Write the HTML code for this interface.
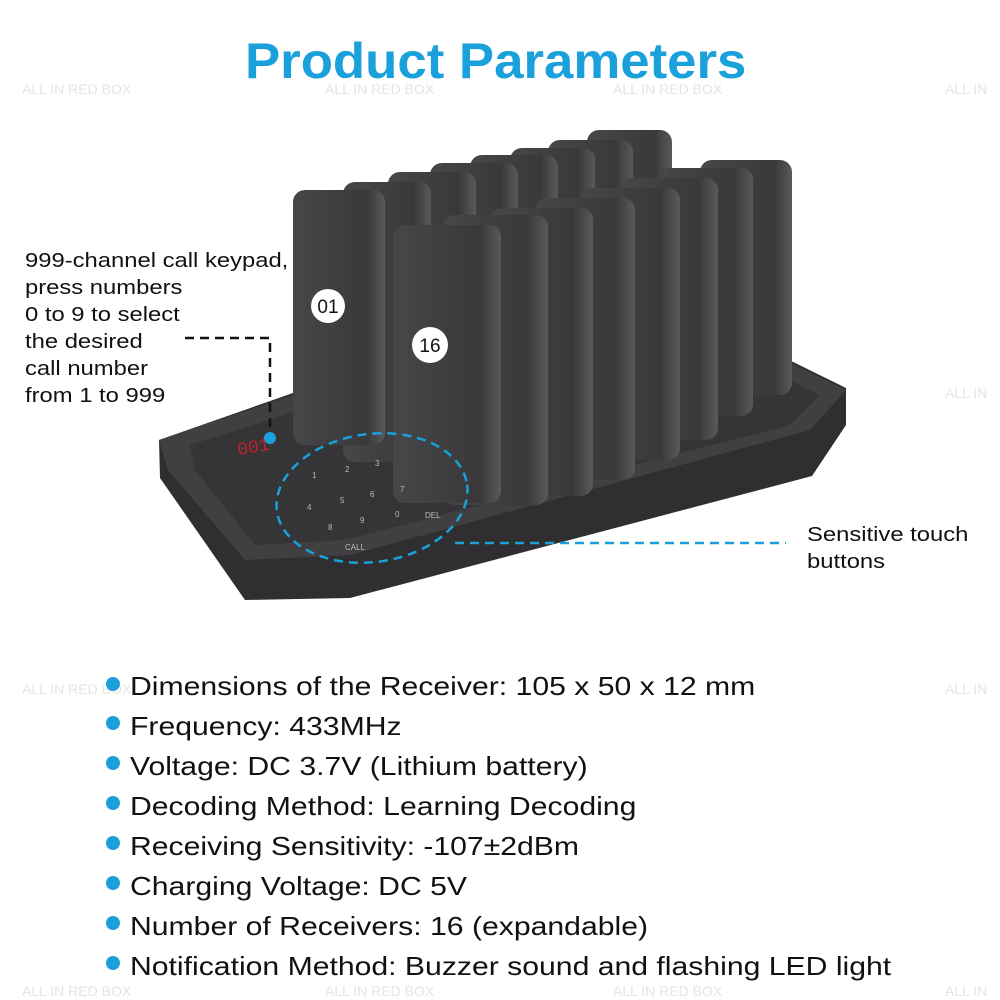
<!DOCTYPE html>
<html><head><meta charset="utf-8"><style>
html,body{margin:0;padding:0;background:#fff;}
body{width:1000px;height:1000px;position:relative;overflow:hidden;font-family:"Liberation Sans",sans-serif;}
.t{position:absolute;white-space:nowrap;color:#111;transform-origin:0 0;}
.wm{position:absolute;color:#e4e4e4;font-size:14px;}
</style></head><body>
<div class="t" style="left:245px;top:32px;font-size:50px;font-weight:bold;color:#1aa0da;transform:scaleX(1.055);">Product Parameters</div>
<div class="wm" style="left:22px;top:81px">ALL IN RED BOX</div>
<div class="wm" style="left:325px;top:81px">ALL IN RED BOX</div>
<div class="wm" style="left:613px;top:81px">ALL IN RED BOX</div>
<div class="wm" style="left:945px;top:81px">ALL IN</div>
<div class="wm" style="left:945px;top:385px">ALL IN</div>
<div class="wm" style="left:22px;top:681px">ALL IN RED BOX</div>
<div class="wm" style="left:945px;top:681px">ALL IN</div>
<div class="wm" style="left:22px;top:983px">ALL IN RED BOX</div>
<div class="wm" style="left:325px;top:983px">ALL IN RED BOX</div>
<div class="wm" style="left:613px;top:983px">ALL IN RED BOX</div>
<div class="wm" style="left:945px;top:983px">ALL IN</div>

<svg width="1000" height="1000" style="position:absolute;left:0;top:0">
<defs>
<linearGradient id="cg" x1="0" x2="1"><stop offset="0" stop-color="#47474a"/><stop offset="0.8" stop-color="#39393b"/><stop offset="1" stop-color="#5a5a5c"/></linearGradient>
</defs>
<!-- base -->
<polygon points="159,440 293,393 785,358 846,388 846,425 812,476 350,598 245,600 160,478" fill="#2f2f31"/>
<polygon points="159,440 293,395 785,360 846,390 810,430 350,555 245,560 168,470" fill="#404043"/>
<polygon points="190,445 300,410 780,375 820,395 790,425 345,540 255,545 195,470" fill="#353537"/>
<g>
<rect x="587" y="130" width="85" height="240" rx="12" fill="url(#cg)"/>
<rect x="548" y="140" width="85" height="250" rx="12" fill="url(#cg)"/>
<rect x="510" y="148" width="85" height="260" rx="12" fill="url(#cg)"/>
<rect x="470" y="155" width="88" height="270" rx="12" fill="url(#cg)"/>
<rect x="430" y="163" width="88" height="275" rx="12" fill="url(#cg)"/>
<rect x="388" y="172" width="88" height="278" rx="12" fill="url(#cg)"/>
<rect x="343" y="182" width="88" height="280" rx="12" fill="url(#cg)"/>
</g>
<rect x="700" y="160" width="92" height="235" rx="12" fill="url(#cg)"/>
<rect x="658" y="168" width="95" height="248" rx="12" fill="url(#cg)"/>
<rect x="620" y="178" width="98" height="262" rx="12" fill="url(#cg)"/>
<rect x="580" y="188" width="100" height="272" rx="12" fill="url(#cg)"/>
<rect x="535" y="198" width="100" height="282" rx="12" fill="url(#cg)"/>
<rect x="490" y="208" width="103" height="288" rx="12" fill="url(#cg)"/>
<rect x="443" y="215" width="105" height="290" rx="12" fill="url(#cg)"/>
<rect x="293" y="190" width="92" height="255" rx="12" fill="url(#cg)"/>
<circle cx="328" cy="306" r="17" fill="#fff"/>
<text x="328" y="313" font-size="19" font-family="Liberation Sans" text-anchor="middle" fill="#111">01</text>
<rect x="393" y="225" width="108" height="278" rx="12" fill="url(#cg)"/>
<circle cx="430" cy="345" r="18" fill="#fff"/>
<text x="430" y="352" font-size="19" font-family="Liberation Sans" text-anchor="middle" fill="#111">16</text>
<text x="236" y="452" font-size="18" fill="#c0222a" font-family="Liberation Mono" transform="rotate(-10 255 440)">001</text>
<g fill="#bbb" font-size="8" font-family="Liberation Sans">
<text x="312" y="478">1</text><text x="345" y="472">2</text><text x="375" y="466">3</text>
<text x="307" y="510">4</text><text x="340" y="503">5</text><text x="370" y="497">6</text><text x="400" y="492">7</text>
<text x="328" y="530">8</text><text x="360" y="523">9</text><text x="395" y="517">0</text>
<text x="345" y="550">CALL</text><text x="425" y="518">DEL</text>
</g>
<polyline points="185,338 270,338 270,435" fill="none" stroke="#111" stroke-width="2.5" stroke-dasharray="9,6"/>
<circle cx="270" cy="438" r="6" fill="#1aa0da"/>
<ellipse cx="372" cy="498" rx="96" ry="64" fill="none" stroke="#1aa0da" stroke-width="2.5" stroke-dasharray="9,6" transform="rotate(-8 372 498)"/>
<line x1="455" y1="543" x2="786" y2="543" stroke="#1aa0da" stroke-width="2.5" stroke-dasharray="9,6"/>
<g fill="#1aa0da">
<circle cx="113" cy="684" r="7"/><circle cx="113" cy="723" r="7"/><circle cx="113" cy="763" r="7"/><circle cx="113" cy="803" r="7"/>
<circle cx="113" cy="843" r="7"/><circle cx="113" cy="883" r="7"/><circle cx="113" cy="923" r="7"/><circle cx="113" cy="963" r="7"/>
</g>
</svg>

<div class="t" style="left:25px;top:248px;font-size:20px;line-height:27px;transform:scaleX(1.19);">999-channel call keypad,<br>press numbers<br>0 to 9 to select<br>the desired<br>call number<br>from 1 to 999</div>
<div class="t" style="left:807px;top:522px;font-size:20px;line-height:27px;transform:scaleX(1.19);">Sensitive touch<br>buttons</div>
<div class="t" style="left:130px;top:666px;font-size:26px;line-height:40px;transform:scaleX(1.16);">Dimensions of the Receiver: 105 x 50 x 12 mm<br>Frequency: 433MHz<br>Voltage: DC 3.7V (Lithium battery)<br>Decoding Method: Learning Decoding<br>Receiving Sensitivity: -107±2dBm<br>Charging Voltage: DC 5V<br>Number of Receivers: 16 (expandable)<br>Notification Method: Buzzer sound and flashing LED light</div>
</body></html>
